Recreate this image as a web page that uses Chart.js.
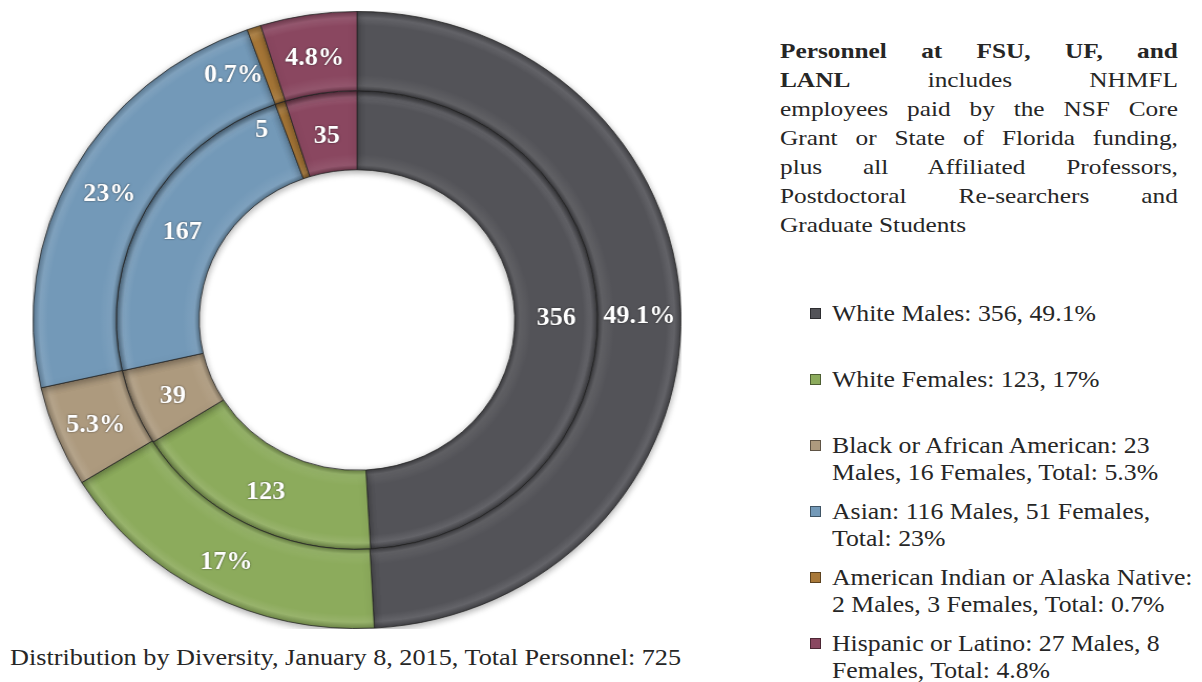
<!DOCTYPE html>
<html>
<head>
<meta charset="utf-8">
<script src="https://cdn.jsdelivr.net/npm/chart.js@4.4.1/dist/chart.umd.min.js"></script>
<style>
  body { margin: 0; width: 1202px; height: 682px; background: #fff; position: relative; overflow: hidden;
         font-family: "Liberation Serif", "Times New Roman", serif; color: #262626; }
  #grafico { position: absolute; left: 48px; top: 11px; width: 618px; height: 618px;
             transform: scaleX(1.05); transform-origin: center; }
  #legenda-titulo { position: absolute; left: 10px; top: 645px; font-size: 23px; white-space: nowrap;
                    transform: scaleX(1.14); transform-origin: left center; }
  #nota { position: absolute; left: 780px; top: 36px; width: 346px; font-size: 22px; line-height: 29px;
          transform: scaleX(1.15); transform-origin: left top; }
  #nota div { text-align: justify; text-align-last: justify; white-space: nowrap; }
  #nota div.ultima { text-align-last: left; }
  #legenda { position: absolute; left: 810px; top: 300px; }
  .item { position: relative; height: 66px; font-size: 23px; line-height: 27px; white-space: nowrap; }
  .item .marca { position: absolute; left: 0; top: 8px; width: 11px; height: 11px; box-sizing: border-box;
                 border: 1px solid rgba(0,0,0,0.45); }
  .item .texto { position: absolute; left: 22px; top: 0; transform: scaleX(1.12); transform-origin: left top; }
</style>
</head>
<body>
<div id="grafico"><canvas id="rosca"></canvas></div>
<div id="nota"></div>
<div id="legenda"></div>
<div id="legenda-titulo"></div>

<script>
// ======== DADOS ========
const categorias = ['White Males', 'White Females', 'Black or African American', 'Asian',
  'American Indian or Alaska Native', 'Hispanic or Latino'];
const totais = [356, 123, 39, 167, 5, 35];
const percentuais = [49.1, 17, 5.3, 23, 0.7, 4.8];
const rotulosTotais = ['356', '123', '39', '167', '5', '35'];
const rotulosPercent = ['49.1%', '17%', '5.3%', '23%', '0.7%', '4.8%'];
const cores = ['#535358', '#8cab5c', '#ad9a7e', '#7399b8', '#a87838', '#8a4760'];

const textosLegenda = [
  ['White Males: 356, 49.1%'],
  ['White Females: 123, 17%'],
  ['Black or African American: 23', 'Males, 16 Females, Total: 5.3%'],
  ['Asian: 116 Males, 51 Females,', 'Total: 23%'],
  ['American Indian or Alaska Native:', '2 Males, 3 Females, Total: 0.7%'],
  ['Hispanic or Latino: 27 Males, 8', 'Females, Total: 4.8%']
];
const linhasNota = [
  '<b>Personnel at FSU, UF, and</b>',
  '<b>LANL</b> includes NHMFL',
  'employees paid by the NSF Core',
  'Grant or State of Florida funding,',
  'plus all Affiliated Professors,',
  'Postdoctoral Re-searchers and',
  'Graduate Students'
];
const tituloGrafico = 'Distribution by Diversity, January 8, 2015, Total Personnel: 725';

// ======== TEXTOS ========
document.getElementById('legenda-titulo').textContent = tituloGrafico;

document.getElementById('nota').innerHTML = linhasNota
  .map((l, i) => `<div class="${i === linhasNota.length - 1 ? 'ultima' : ''}">${l}</div>`)
  .join('');

const legenda = document.getElementById('legenda');
textosLegenda.forEach((linhas, i) => {
  const item = document.createElement('div');
  item.className = 'item';
  item.innerHTML = `<span class="marca" style="background:${cores[i]}"></span>` +
    `<span class="texto">${linhas.join('<br>')}</span>`;
  legenda.appendChild(item);
});

// ======== CORES ========
// mistura uma cor hex com branco (t > 0) ou preto (t < 0)
function misturar(hex, t) {
  const n = parseInt(hex.slice(1), 16);
  const alvo = t > 0 ? 255 : 0;
  const a = Math.abs(t);
  const ch = s => Math.round(((n >> s) & 255) * (1 - a) + alvo * a);
  return `rgb(${ch(16)},${ch(8)},${ch(0)})`;
}

// gradiente radial em cada anel, para dar o efeito de relevo
function preenchimento(context) {
  const base = cores[context.dataIndex];
  const chart = context.chart;
  const area = chart.chartArea;
  const ctrl = chart.getDatasetMeta(context.datasetIndex).controller;
  if (!area || !ctrl || !ctrl.outerRadius) return base;
  const cx = (area.left + area.right) / 2;
  const cy = (area.top + area.bottom) / 2;
  const g = chart.ctx.createRadialGradient(cx, cy, ctrl.innerRadius, cx, cy, ctrl.outerRadius);
  g.addColorStop(0, misturar(base, -0.25));
  g.addColorStop(0.06, misturar(base, 0.08));
  g.addColorStop(0.2, base);
  g.addColorStop(0.82, base);
  g.addColorStop(0.92, misturar(base, 0.1));
  g.addColorStop(1, misturar(base, -0.2));
  return g;
}

// ======== PLUGINS ========
// sombra suave por baixo dos anéis
const sombraPlugin = {
  id: 'sombra',
  beforeDatasetsDraw(chart) {
    const c = chart.ctx;
    c.save();
    c.shadowColor = 'rgba(0,0,0,0.35)';
    c.shadowBlur = 7;
    c.shadowOffsetY = 2;
  },
  afterDatasetsDraw(chart) {
    chart.ctx.restore();
  }
};

// rótulos brancos no meio de cada fatia
const rotulosPlugin = {
  id: 'rotulos',
  afterDatasetsDraw(chart) {
    const ctx = chart.ctx;
    ctx.save();
    ctx.fillStyle = '#fff';
    ctx.font = 'bold 25px "Liberation Serif", serif';
    ctx.textBaseline = 'middle';
    ctx.shadowColor = 'rgba(0,0,0,0.6)';
    ctx.shadowBlur = 2;
    chart.data.datasets.forEach((ds, i) => {
      chart.getDatasetMeta(i).data.forEach((arc, j) => {
        const p = arc.getProps(['x', 'y', 'startAngle', 'endAngle', 'innerRadius', 'outerRadius'], true);
        const meio = (p.startAngle + p.endAngle) / 2;
        const r = (p.innerRadius + p.outerRadius) / 2;
        const px = p.x + Math.cos(meio) * r;
        const py = p.y + Math.sin(meio) * r;
        // fatias muito estreitas: texto encostado à esquerda da fatia
        const pequeno = (p.endAngle - p.startAngle) < 0.1;
        const recuo = i === 0 ? 4 : 24;
        ctx.textAlign = pequeno ? 'right' : 'center';
        ctx.fillText(ds.rotulos[j], pequeno ? px - recuo : px, pequeno ? py + (i === 0 ? 10 : -10) : py + 4);
      });
    });
    ctx.restore();
  }
};

// ======== GRÁFICO ========
const ctx = document.getElementById('rosca').getContext('2d');
new Chart(ctx, {
  type: 'doughnut',
  data: {
    labels: categorias,
    datasets: [
      { data: percentuais, rotulos: rotulosPercent, backgroundColor: preenchimento, borderColor: 'rgba(35,35,35,0.75)', borderWidth: 1 },
      { data: totais, rotulos: rotulosTotais, backgroundColor: preenchimento, borderColor: 'rgba(35,35,35,0.75)', borderWidth: 1 }
    ]
  },
  options: {
    responsive: true,
    maintainAspectRatio: false,
    animation: false,
    cutout: '48.7%',
    layout: { padding: 0 },
    plugins: { legend: { display: false }, tooltip: { enabled: false } }
  },
  plugins: [sombraPlugin, rotulosPlugin]
});
</script>
</body>
</html>
